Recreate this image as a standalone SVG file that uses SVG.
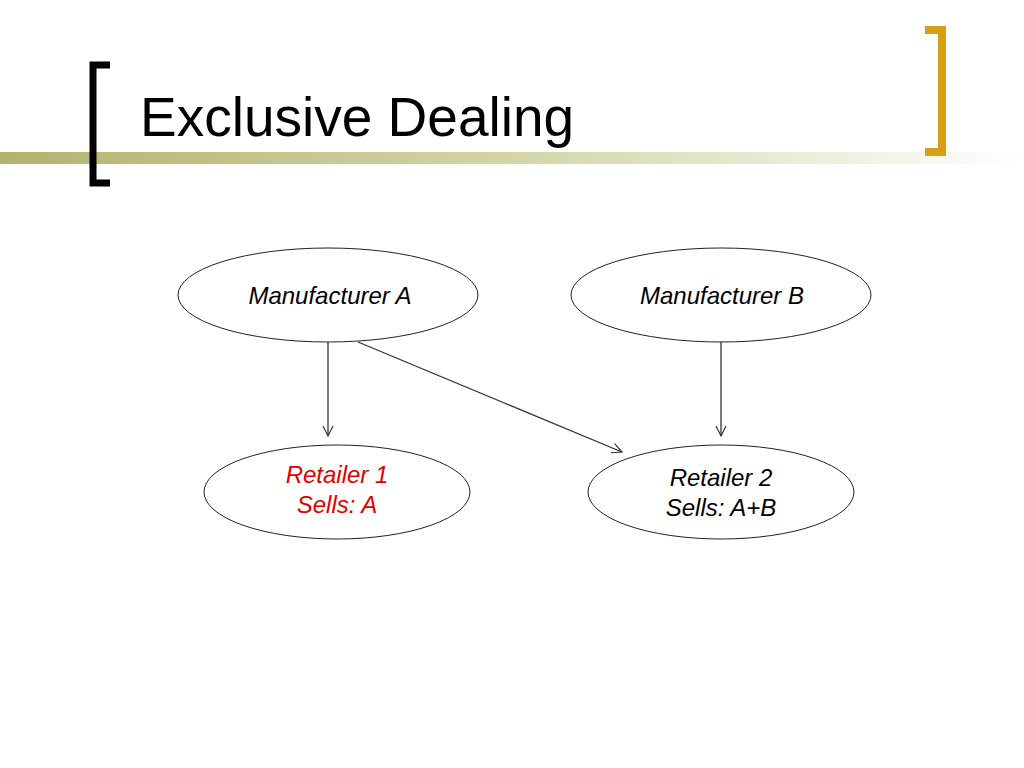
<svg xmlns="http://www.w3.org/2000/svg" width="1024" height="768" viewBox="0 0 1024 768">
<defs>
<linearGradient id="bar" x1="0" x2="1" y1="0" y2="0">
<stop offset="0" stop-color="#b3b36f"/>
<stop offset="0.5" stop-color="#d4d4a8"/>
<stop offset="1" stop-color="#ffffff"/>
</linearGradient>
<marker id="arr" markerWidth="14" markerHeight="14" refX="11" refY="7" orient="auto" markerUnits="userSpaceOnUse">
<path d="M1,2 L11,7 L1,12" fill="none" stroke="#333" stroke-width="1.2"/>
</marker>
<style>
.n{fill:#fff;stroke:#222;stroke-width:1}
.t{font-family:"Liberation Sans",Arial,sans-serif;font-size:24px;font-style:italic;text-anchor:middle}
.c{stroke:#333;stroke-width:1.3;fill:none;marker-end:url(#arr)}
</style>
</defs>
<rect width="1024" height="768" fill="#fff"/>
<rect x="0" y="152" width="1024" height="12" fill="url(#bar)"/>
<path d="M110,65 H93 V183 H110" fill="none" stroke="#000" stroke-width="7"/>
<path d="M925,30 H942 V152 H925" fill="none" stroke="#d4a017" stroke-width="8"/>
<text x="140" y="136" font-family="Liberation Sans,Arial,sans-serif" font-size="55">Exclusive Dealing</text>
<g id="connectors">
<line class="c" x1="328" y1="342" x2="328" y2="436"/>
<line class="c" x1="358" y1="342" x2="622" y2="452"/>
<line class="c" x1="721" y1="342" x2="721" y2="436"/>
</g>
<g id="mfrA"><ellipse class="n" cx="328" cy="295" rx="150" ry="47"/><text class="t" x="330" y="304">Manufacturer A</text></g>
<g id="mfrB"><ellipse class="n" cx="721" cy="295" rx="150" ry="47"/><text class="t" x="722" y="304">Manufacturer B</text></g>
<g id="ret1"><ellipse class="n" cx="337" cy="492" rx="133" ry="47"/><text class="t" x="337" y="483" fill="#e00000">Retailer 1</text><text class="t" x="337" y="513" fill="#e00000">Sells: A</text></g>
<g id="ret2"><ellipse class="n" cx="721" cy="492" rx="133" ry="47"/><text class="t" x="721" y="486">Retailer 2</text><text class="t" x="721" y="516">Sells: A+B</text></g>
</svg>
